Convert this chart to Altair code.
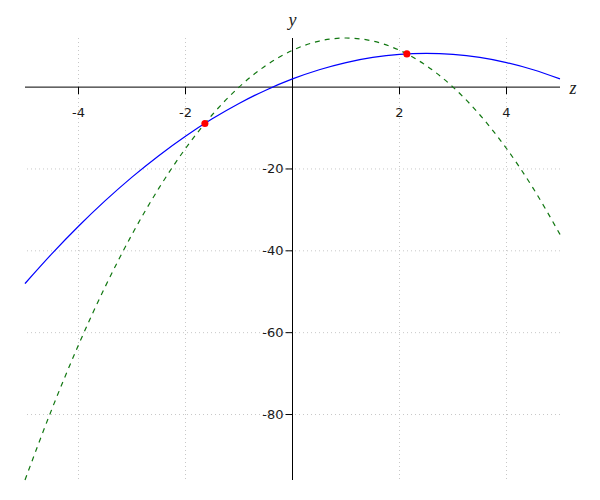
import altair as alt
import pandas as pd

x_vals = [-5, -4.5, -4, -3.5, -3, -2.5, -2, -1.5, -1, -0.5, 0,
          0.5, 1, 1.5, 2, 2.5, 3, 3.5, 4, 4.5, 5]
blue_y = [-48, -40.75, -34, -27.75, -22, -16.75, -12, -7.75, -4, -0.75, 2,
          4.25, 6, 7.25, 8, 8.25, 8, 7.25, 6, 4.25, 2]
green_y = [-96, -78.75, -63, -48.75, -36, -24.75, -15, -6.75, 0, 5.25, 9,
           11.25, 12, 11.25, 9, 5.25, 0, -6.75, -15, -24.75, -36]
pts_x = [-1.6375, 2.1375]
pts_y = [-8.87, 8.12]
x_ticks = [-4, -2, 2, 4]
y_ticks = [-20, -40, -60, -80]
x_labels = ["-4", "-2", "2", "4"]
y_labels = ["-20", "-40", "-60", "-80"]
title_text = ["y", "z"]
title_x = [0, 5]
title_y = [12, 0]

xs = alt.Scale(domain=[-5, 5], nice=False, zero=False)
ys = alt.Scale(domain=[-96, 12], nice=False, zero=False)

blue_df = pd.DataFrame({"x": x_vals, "y": blue_y})
green_df = pd.DataFrame({"x": x_vals, "y": green_y})
pts_df = pd.DataFrame({"x": pts_x, "y": pts_y})
xt_df = pd.DataFrame({"v": x_ticks, "t": x_labels, "z": [0] * len(x_ticks)})
yt_df = pd.DataFrame({"v": y_ticks, "t": y_labels, "z": [0] * len(y_ticks)})
zero_df = pd.DataFrame({"v": [0]})
ttl_df = pd.DataFrame({"t": title_text, "x": title_x, "y": title_y})

grid_style = dict(color="#c8c8c8", strokeDash=[1, 3], strokeWidth=1)

X = lambda f: alt.X(f, type="quantitative", scale=xs, axis=None)
Y = lambda f: alt.Y(f, type="quantitative", scale=ys, axis=None)

vgrid = alt.Chart(xt_df).mark_rule(**grid_style).encode(x=X("v"))
hgrid = alt.Chart(yt_df).mark_rule(**grid_style).encode(y=Y("v"))

xaxis = alt.Chart(zero_df).mark_rule(color="#000000", strokeWidth=1).encode(y=Y("v"))
yaxis = alt.Chart(zero_df).mark_rule(color="#000000", strokeWidth=1).encode(x=X("v"))

xtick_marks = alt.Chart(xt_df).mark_rule(color="#000000", strokeWidth=1, y2Offset=7).encode(
    x=X("v"), y=Y("z"), y2="z")
ytick_marks = alt.Chart(yt_df).mark_rule(color="#000000", strokeWidth=1, x2Offset=-7).encode(
    y=Y("v"), x=X("z"), x2="z")

xlab = alt.Chart(xt_df).mark_text(font="DejaVu Sans", fontSize=13, color="#1a1a1a",
                                  dy=26, baseline="middle", align="center").encode(
    x=X("v"), y=Y("z"), text="t:N")
ylab = alt.Chart(yt_df).mark_text(font="DejaVu Sans", fontSize=13, color="#1a1a1a",
                                  dx=-9, baseline="middle", align="right").encode(
    y=Y("v"), x=X("z"), text="t:N")

ytitle = alt.Chart(ttl_df).transform_filter("datum.t == 'y'").mark_text(
    font="Liberation Serif", fontStyle="italic", fontSize=18, color="#222222",
    dy=-17, baseline="middle", align="center").encode(x=X("x"), y=Y("y"), text="t:N")
ztitle = alt.Chart(ttl_df).transform_filter("datum.t == 'z'").mark_text(
    font="Liberation Serif", fontStyle="italic", fontSize=18, color="#222222",
    dx=13, dy=2, baseline="middle", align="center").encode(x=X("x"), y=Y("y"), text="t:N")

blue = alt.Chart(blue_df).mark_line(color="#0000ff", strokeWidth=1.2, interpolate="monotone").encode(
    x=X("x"), y=Y("y"))
green = alt.Chart(green_df).mark_line(color="#117711", strokeWidth=1.2, strokeDash=[5, 5],
                                      interpolate="monotone").encode(x=X("x"), y=Y("y"))
pts = alt.Chart(pts_df).mark_circle(color="#ff0000", size=50, opacity=1).encode(
    x=X("x"), y=Y("y"))

chart = alt.layer(vgrid, hgrid, xaxis, yaxis, xtick_marks, ytick_marks, xlab, ylab,
                  ytitle, ztitle, green, blue, pts).properties(
    width=535, height=442,
    autosize=alt.AutoSizeParams(type="none"),
    padding={"left": 17, "top": 30, "right": 20, "bottom": 10},
).configure_view(strokeOpacity=0, strokeWidth=0).configure_axis(grid=False, domain=False, ticks=False, labels=False)

chart.save("out.html", embed_options={"renderer": "svg", "actions": False})
